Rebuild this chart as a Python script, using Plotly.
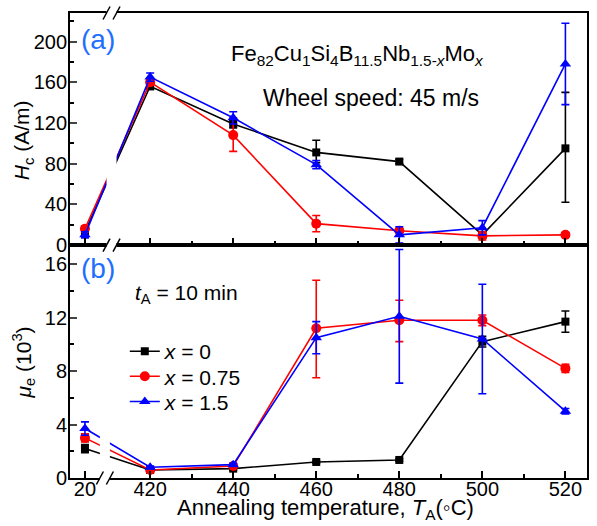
import plotly.graph_objects as go

# ---------------- data ----------------
temps = [20, 420, 440, 460, 480, 500, 520]          # annealing temperature (°C); 20 = as-quenched
tick_labels = ["20", "420", "440", "460", "480", "500", "520"]
series_names = ["<i>x</i> = 0", "<i>x</i> = 0.75", "<i>x</i> = 1.5"]

# coercivity Hc (A/m)
hc_x0 = [13, 156, 119, 91, 82, 10, 95]
hc_x0_ep = [3, 3, 4, 12, 2, 3, 55]
hc_x0_em = [3, 3, 4, 10, 2, 3, 53]
hc_x075 = [16, 160, 108, 21, 14, 9, 10]
hc_x075_ep = [3, 3, 17, 8, 2, 4, 2]
hc_x075_em = [3, 3, 16, 8, 2, 4, 2]
hc_x15 = [10, 165, 125, 79, 10, 17, 178]
hc_x15_ep = [3, 4, 6, 4, 8, 7, 40]
hc_x15_em = [3, 4, 6, 4, 8, 7, 40]

# effective permeability mu_e (10^3)
mu_x0 = [2.2, 0.6, 0.7, 1.2, 1.35, 10.2, 11.7]
mu_x0_e = [0.3, 0.1, 0.1, 0.1, 0.1, 0.4, 0.8]
mu_x075 = [3.0, 0.6, 0.9, 11.2, 11.8, 11.8, 8.2]
mu_x075_ep = [0.3, 0.1, 0.1, 3.6, 1.5, 0.4, 0.3]
mu_x075_em = [0.3, 0.1, 0.1, 3.7, 1.6, 0.4, 0.3]
mu_x15 = [3.7, 0.8, 1.0, 10.5, 12.1, 10.4, 5.0]
mu_x15_e = [0.5, 0.1, 0.1, 1.2, 5.0, 4.1, 0.2]

colors = ["#000000", "#ff0000", "#0000ff"]
symbols = ["square", "circle", "triangle-up"]
msizes = [8, 10, 10]

# broken axis: 20 °C is drawn just left of the break
BREAK_POS_20 = 404.3
def xpos(t):
    return BREAK_POS_20 if t == 20 else t
xs = [xpos(t) for t in temps]

FONT = "Liberation Sans, Arial, sans-serif"

fig = go.Figure()

hc_sets = [(hc_x0, hc_x0_ep, hc_x0_em), (hc_x075, hc_x075_ep, hc_x075_em), (hc_x15, hc_x15_ep, hc_x15_em)]
mu_sets = [(mu_x0, mu_x0_e, mu_x0_e), (mu_x075, mu_x075_ep, mu_x075_em), (mu_x15, mu_x15_e, mu_x15_e)]
legend_ids = ["legend", "legend2", "legend3"]

for i, (y, ep, em) in enumerate(hc_sets):
    fig.add_trace(go.Scatter(
        x=xs, y=y, mode="lines+markers", xaxis="x", yaxis="y",
        line=dict(color=colors[i], width=1.6),
        marker=dict(symbol=symbols[i], size=msizes[i], color=colors[i]),
        error_y=dict(type="data", array=ep, arrayminus=em, symmetric=False,
                     color=colors[i], thickness=1.6, width=4),
        showlegend=False, cliponaxis=False))

for i, (y, ep, em) in enumerate(mu_sets):
    fig.add_trace(go.Scatter(
        x=xs, y=y, mode="lines+markers", xaxis="x2", yaxis="y2",
        name=series_names[i], legend=legend_ids[i],
        line=dict(color=colors[i], width=1.6),
        marker=dict(symbol=symbols[i], size=msizes[i], color=colors[i]),
        error_y=dict(type="data", array=ep, arrayminus=em, symmetric=False,
                     color=colors[i], thickness=1.6, width=4),
        showlegend=True, cliponaxis=False))

major_vals = xs
minor_vals = [430, 450, 470, 490, 510]

xcommon = dict(range=[400.7, 525.2], showline=True, linecolor="black", linewidth=1.8,
               mirror=True, ticks="inside", ticklen=7, tickwidth=1.5, tickcolor="black",
               tickmode="array", tickvals=major_vals, ticktext=tick_labels,
               minor=dict(tickmode="array", tickvals=minor_vals, ticks="inside",
                          ticklen=4, tickwidth=1.5, tickcolor="black"),
               showgrid=False, zeroline=False,
               tickfont=dict(family=FONT, size=20, color="black"))

top_dom = [0.501, 1.0]
bot_dom = [0.0, 0.501]

def leg(ypos):
    return dict(x=0.106, y=ypos, xanchor="left", yanchor="top",
                bgcolor="rgba(0,0,0,0)", borderwidth=0,
                font=dict(family=FONT, size=21))

fig.update_layout(
    width=597, height=526,
    margin=dict(l=70, r=8, t=13, b=48),
    paper_bgcolor="white", plot_bgcolor="white",
    font=dict(family=FONT, size=20, color="black"),
    xaxis=dict(**xcommon, anchor="y", showticklabels=False, matches="x2"),
    xaxis2=dict(**xcommon, anchor="y2", ticklabelstandoff=-8),
    yaxis=dict(domain=top_dom, range=[0, 228], anchor="x", showline=True, linecolor="black",
               linewidth=1.8, mirror=True, ticks="inside", ticklen=7, tickwidth=1.5,
               tickvals=[0, 40, 80, 120, 160, 200], ticklabelstandoff=-3,
               minor=dict(tickmode="array", tickvals=[20, 60, 100, 140, 180, 220], ticks="inside",
                          ticklen=4, tickwidth=1.5, tickcolor="black"),
               showgrid=False, zeroline=False,
               tickfont=dict(family=FONT, size=20)),
    yaxis2=dict(domain=bot_dom, range=[0, 17.43], anchor="x2", showline=True, linecolor="black",
                linewidth=1.8, mirror=True, ticks="inside", ticklen=7, tickwidth=1.5,
                tickvals=[0, 4, 8, 12, 16], ticklabelstandoff=-3,
                minor=dict(tickmode="array", tickvals=[2, 6, 10, 14], ticks="inside",
                           ticklen=4, tickwidth=1.5, tickcolor="black"),
                showgrid=False, zeroline=False,
                tickfont=dict(family=FONT, size=20)),
    legend=leg(0.316), legend2=leg(0.262), legend3=leg(0.208),
)

# ---- axis-break decorations (gap + double slash) ----
BREAK_TOP = 410.7
BREAK_BOT = 409.1
shapes = []
for xa, yref, ylo, yhi in [(BREAK_TOP, "y domain", -0.01, 1.01), (BREAK_BOT, "y2 domain", -0.01, 0.99)]:
    shapes.append(dict(type="rect", xref="x", yref=yref, xsizemode="pixel", xanchor=xa,
                       x0=-5, x1=5, y0=ylo, y1=yhi, fillcolor="white", line=dict(width=0),
                       layer="above"))
for xa, yref, ya in [(BREAK_TOP, "y domain", 1), (BREAK_TOP, "y domain", 0), (BREAK_BOT, "y2 domain", 0)]:
    for off in (-5, 5):
        shapes.append(dict(type="line", xref="x", yref=yref, xsizemode="pixel", xanchor=xa,
                           ysizemode="pixel", yanchor=ya,
                           x0=off - 3.5, x1=off + 3.5, y0=-6.5, y1=6.5,
                           line=dict(color="black", width=1.5), layer="above"))
fig.update_layout(shapes=shapes)

ann = [
    dict(text="(a)", x=0.018, y=0.884, xref="x domain", yref="y domain", xanchor="left", yanchor="middle",
         showarrow=False, font=dict(family=FONT, size=28, color="#1f6fff")),
    dict(text="(b)", x=0.018, y=0.9, xref="x2 domain", yref="y2 domain", xanchor="left", yanchor="middle",
         showarrow=False, font=dict(family=FONT, size=28, color="#1f6fff")),
    dict(text="Fe<sub>82</sub>Cu<sub>1</sub>Si<sub>4</sub>B<sub>11.5</sub>Nb<sub>1.5-<i>x</i></sub>Mo<sub><i>x</i></sub>",
         x=0.557, y=0.82, xref="x domain", yref="y domain", xanchor="center", yanchor="middle",
         showarrow=False, font=dict(family=FONT, size=22)),
    dict(text="Wheel speed: 45 m/s", x=0.582, y=0.635, xref="x domain", yref="y domain",
         xanchor="center", yanchor="middle", showarrow=False, font=dict(family=FONT, size=23)),
    dict(text="<i>t</i><sub>A</sub> = 10 min", x=0.225, y=0.79, xref="x2 domain", yref="y2 domain",
         xanchor="center", yanchor="middle", showarrow=False, font=dict(family=FONT, size=21)),
    dict(text="<i>H</i><sub>c</sub> (A/m)", x=-0.0905, y=0.727, xref="paper", yref="paper",
         xanchor="center", yanchor="middle", textangle=-90, showarrow=False,
         font=dict(family=FONT, size=21)),
    dict(text="<i>μ</i><sub>e</sub> (10<sup>3</sup>)", x=-0.0905, y=0.249, xref="paper", yref="paper",
         xanchor="center", yanchor="middle", textangle=-90, showarrow=False,
         font=dict(family=FONT, size=21)),
    dict(text="Annealing temperature, <i>T</i><sub>A</sub>(◦C)", x=0.495, y=-0.066,
         xref="paper", yref="paper", xanchor="center", yanchor="middle", showarrow=False,
         font=dict(family=FONT, size=22)),
]
fig.update_layout(annotations=ann)

fig.write_html("out.html")
